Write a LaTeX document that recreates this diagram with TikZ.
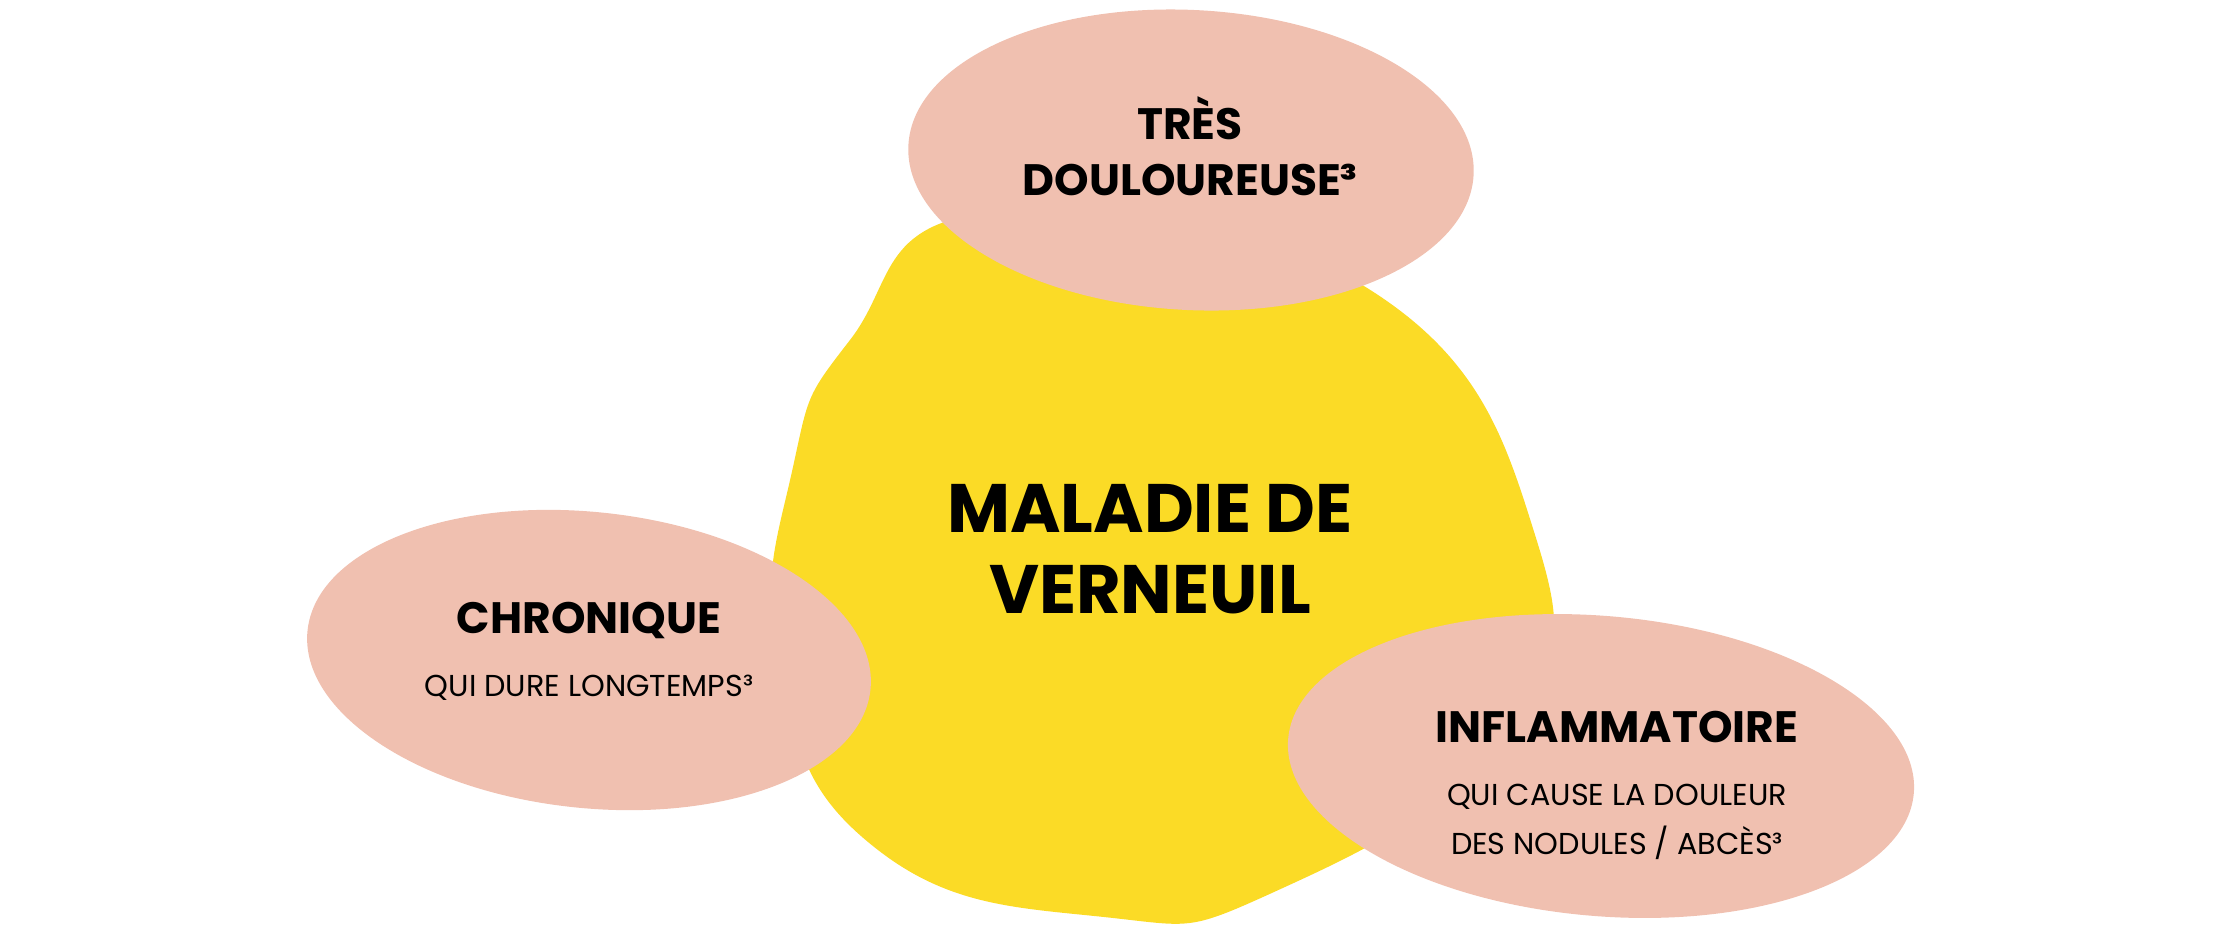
\documentclass[tikz,border=0pt]{standalone}
\usepackage{fontspec}
\setmainfont{Poppins}
\newfontfamily\light{Poppins}[UprightFont=* Light, BoldFont=* Light]
\definecolor{blobY}{HTML}{FBDB26}
\definecolor{blobP}{HTML}{F0C0B0}
\tikzset{head/.style={font=\bfseries\fontsize{12.5}{15}\selectfont,align=center,inner sep=0},
 sub/.style={font=\fontsize{8.6}{12}\selectfont,align=center,inner sep=0},
 pink/.style={fill=blobP,draw=none}}
\begin{document}
\begin{tikzpicture}[x=0.01cm,y=-0.01cm]
\useasboundingbox (0,0) rectangle (2220,938);
\fill[blobY] plot[smooth cycle,tension=0.8] coordinates {(991,212) (1359,283) (1536,538) (1501,736) (1274,892) (1104,917) (878,850) (779,665) (793,467) (850,340)};
\fill[pink,rotate around={-3:(1191,160)}] (1191,160) ellipse [x radius=283,y radius=150];
\fill[pink,rotate around={-6:(589,660)}] (589,660) ellipse [x radius=283,y radius=148];
\fill[pink,rotate around={-5:(1601,766)}] (1601,766) ellipse [x radius=314,y radius=150];
\node[head] (t1) at (1190,118) {TRÈS};
\node[head] (t2) at (1190,180) {DOULOUREUSE³};
\node[head,font=\bfseries\fontsize{19.5}{24}\selectfont] (m1) at (1150,508) {MALADIE DE};
\node[head,font=\bfseries\fontsize{19.5}{24}\selectfont] (m2) at (1150,590) {VERNEUIL};
\node[head] (c1) at (589,620) {CHRONIQUE};
\node[sub] (c2) at (589,688) {QUI DURE LONGTEMPS³};
\node[head] (i1) at (1617,727) {INFLAMMATOIRE};
\node[sub] (i2) at (1617,797) {QUI CAUSE LA DOULEUR};
\node[sub] (i3) at (1617,843) {DES NODULES / ABCÈS³};
\end{tikzpicture}
\end{document}
